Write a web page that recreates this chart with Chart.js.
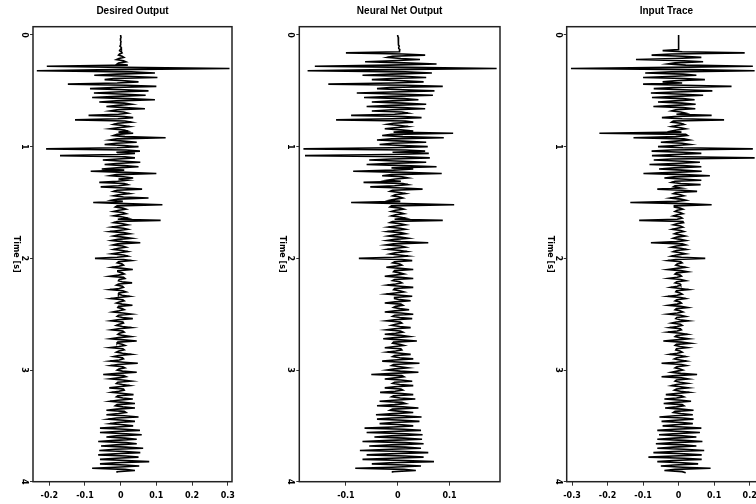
<!DOCTYPE html>
<html>
<head>
<meta charset="utf-8">
<script src="https://cdn.jsdelivr.net/npm/chart.js@4.4.1/dist/chart.umd.min.js"></script>
<style>
    html, body { margin: 0; padding: 0; background: #fff; overflow: hidden; }
    #wrap { position: relative; width: 756px; height: 504px; overflow: hidden; }
    #wrap canvas { position: absolute; top: 0; }
</style>
</head>
<body>
<div id="wrap">
    <canvas id="desiredChart" width="250" height="504" style="left:0px"></canvas>
    <canvas id="netChart" width="262" height="504" style="left:250px"></canvas>
    <canvas id="inputChart" width="272" height="504" style="left:512px"></canvas>
</div>
<script>
// sample interval of the traces (s)
const sampleInterval = 0.01;

const timeTicks = [0, 1, 2, 3, 4];
const desiredTicks = [-0.2, -0.1, 0, 0.1, 0.2, 0.3];
const netTicks = [-0.1, 0, 0.1];
const inputTicks = [-0.3, -0.2, -0.1, 0, 0.1, 0.2];

const desiredAmp = [
    0, 0, 0.001, 0, -0.001, 0, 0.001, 0, 0, 0, -0.002, 0.001, 0.002, -0.001, -0.003, 0.002, 0.004, -0.003, -0.006, 0.004,
    0.009, -0.005, -0.012, 0.008, 0.015, -0.006, -0.01, 0.02, -0.207, 0.01, 0.305, -0.02, -0.235, 0.03, 0.096, -0.01, -0.074, 0.015, 0.103, -0.02,
    -0.045, 0.012, 0.05, -0.01, -0.148, 0.015, 0.1, -0.02, -0.086, 0.01, 0.078, -0.015, -0.075, 0.012, 0.07, -0.01, -0.08, 0.02, 0.096, -0.012,
    -0.06, 0.01, 0.03, -0.008, -0.04, 0.012, 0.068, -0.01, -0.03, 0.008, 0.02, -0.006, -0.09, 0.01, 0.035, -0.008, -0.128, 0.012, 0.03, -0.008,
    -0.02, 0.006, 0.025, -0.008, -0.03, 0.01, 0.02, -0.006, 0.035, -0.01, -0.02, 0.012, 0.126, -0.01, -0.03, 0.008, 0.045, -0.012, -0.045, 0.01,
    0.05, -0.01, -0.209, 0.015, 0.054, -0.012, 0.04, -0.01, -0.17, 0.012, 0.04, -0.008, -0.05, 0.01, 0.055, -0.012, -0.045, 0.01, 0.05, -0.01,
    -0.053, 0.01, -0.084, 0.015, 0.1, -0.012, -0.03, 0.008, 0.035, -0.006, 0.02, -0.008, -0.06, 0.01, 0.02, -0.006, -0.056, 0.01, 0.06, -0.01,
    -0.02, 0.005, 0.025, -0.006, -0.02, 0.008, 0.078, -0.008, -0.025, 0.006, -0.077, 0.012, 0.117, -0.01, -0.015, 0.006, 0.015, -0.005, -0.02, 0.006,
    0.015, -0.005, -0.02, 0.006, 0.02, -0.008, 0.112, -0.01, -0.02, 0.006, 0.02, -0.005, -0.025, 0.008, 0.02, -0.006, -0.03, 0.008, 0.025, -0.006,
    -0.02, 0.006, 0.03, -0.008, -0.025, 0.006, 0.055, -0.008, -0.022, 0.005, 0.015, -0.006, -0.02, 0.005, 0.02, -0.006, -0.025, 0.008, 0.02, -0.01,
    -0.072, 0.008, 0.03, -0.006, -0.01, 0.004, 0.008, -0.005, -0.025, 0.006, 0.034, -0.008, -0.008, 0.004, 0.01, -0.006, -0.03, 0.008, 0.012, -0.004,
    -0.006, 0.004, 0.032, -0.006, -0.012, 0.005, 0.008, -0.004, -0.03, 0.006, 0.015, -0.005, -0.006, 0.004, 0.025, -0.006, -0.028, 0.006, 0.01, -0.004,
    -0.012, 0.004, 0.033, -0.006, -0.008, 0.004, 0.01, -0.005, -0.022, 0.006, 0.03, -0.006, -0.01, 0.005, 0.034, -0.008, -0.028, 0.006, 0.008, -0.004,
    -0.012, 0.005, 0.03, -0.006, -0.026, 0.006, 0.01, -0.004, -0.008, 0.005, 0.028, -0.006, -0.028, 0.008, 0.045, -0.008, -0.01, 0.004, 0.012, -0.005,
    -0.03, 0.006, 0.01, -0.005, -0.012, 0.005, 0.03, -0.006, -0.02, 0.005, 0.008, -0.004, -0.03, 0.008, 0.048, -0.008, -0.028, 0.006, 0.012, -0.005,
    -0.01, 0.005, 0.045, -0.008, -0.049, 0.008, 0.015, -0.006, -0.03, 0.006, 0.03, -0.008, -0.012, 0.005, 0.025, -0.006, -0.032, 0.008, 0.01, -0.005,
    -0.025, 0.008, 0.036, -0.008, -0.012, 0.006, 0.034, -0.008, -0.03, 0.008, 0.04, -0.01, -0.015, 0.006, 0.04, -0.01, -0.04, 0.01, 0.015, -0.006,
    -0.04, 0.01, 0.05, -0.012, -0.035, 0.008, 0.04, -0.01, -0.03, 0.008, 0.035, -0.01, -0.058, 0.012, 0.054, -0.012, -0.058, 0.015, 0.059, -0.012,
    -0.04, 0.012, 0.045, -0.015, -0.063, 0.015, 0.045, -0.012, -0.055, 0.015, 0.063, -0.015, -0.06, 0.012, 0.055, -0.015, -0.063, 0.015, 0.05, -0.012,
    -0.058, 0.015, 0.08, -0.015, -0.058, 0.012, 0.052, -0.015, -0.08, 0.012, 0.04, -0.01, -0.01
];

const netAmp = [
    0, 0, 0.001, 0.001, 0.001, 0.002, 0.002, 0.001, 0.001, 0.002, 0.003, 0.002, 0.002, 0.004, 0.004, 0.003, -0.1, 0.01, 0.053, -0.01,
    -0.02, 0.006, 0.043, -0.01, -0.063, 0.012, 0.075, -0.015, -0.16, 0.02, 0.191, -0.02, -0.174, 0.015, 0.066, -0.012, -0.068, 0.01, 0.055, -0.012,
    -0.05, 0.012, 0.05, -0.01, -0.134, 0.015, 0.087, -0.015, -0.04, 0.01, 0.071, -0.012, -0.079, 0.012, 0.068, -0.01, -0.065, 0.012, 0.04, -0.01,
    -0.05, 0.01, 0.055, -0.012, -0.06, 0.01, 0.053, -0.01, -0.05, 0.008, 0.02, -0.006, -0.09, 0.012, 0.046, -0.01, -0.119, 0.015, 0.03, -0.008,
    -0.02, 0.005, 0.02, -0.006, -0.025, 0.006, 0.03, -0.008, 0.107, -0.012, -0.03, 0.01, 0.089, -0.012, -0.04, 0.01, 0.055, -0.01, -0.035, 0.01,
    0.058, -0.012, -0.182, 0.015, 0.053, -0.01, 0.06, -0.012, -0.179, 0.015, 0.062, -0.012, -0.055, 0.01, 0.055, -0.012, -0.06, 0.012, 0.075, -0.012,
    0.03, -0.008, -0.086, 0.012, 0.085, -0.012, -0.03, 0.008, 0.02, -0.005, -0.02, 0.006, -0.066, 0.01, 0.02, -0.006, -0.053, 0.01, 0.048, -0.01,
    -0.015, 0.004, 0.015, -0.005, -0.01, 0.004, 0.01, -0.004, -0.015, 0.005, -0.09, 0.012, 0.109, -0.012, -0.015, 0.005, 0.012, -0.004, -0.012, 0.004,
    0.012, -0.004, -0.012, 0.004, 0.015, -0.006, 0.087, -0.01, -0.015, 0.005, 0.015, -0.004, -0.018, 0.005, 0.015, -0.005, -0.02, 0.006, 0.015, -0.005,
    -0.018, 0.005, 0.02, -0.006, -0.02, 0.006, 0.059, -0.008, -0.023, 0.006, 0.015, -0.005, -0.02, 0.005, 0.018, -0.005, -0.015, 0.004, 0.02, -0.008,
    -0.075, 0.008, 0.028, -0.006, -0.01, 0.004, 0.008, -0.004, -0.022, 0.005, 0.03, -0.006, -0.008, 0.004, 0.012, -0.005, -0.025, 0.006, 0.03, -0.006,
    -0.01, 0.004, 0.008, -0.004, -0.02, 0.005, 0.03, -0.006, -0.008, 0.004, 0.012, -0.005, -0.022, 0.006, 0.028, -0.006, -0.006, 0.004, 0.025, -0.005,
    -0.025, 0.006, 0.01, -0.004, -0.008, 0.004, 0.022, -0.005, -0.025, 0.006, 0.03, -0.006, -0.01, 0.004, 0.028, -0.006, -0.022, 0.005, 0.008, -0.004,
    -0.012, 0.004, 0.025, -0.006, -0.022, 0.005, 0.01, -0.004, -0.025, 0.006, 0.022, -0.005, -0.028, 0.006, 0.037, -0.008, -0.01, 0.004, 0.012, -0.005,
    -0.025, 0.006, 0.008, -0.004, -0.02, 0.005, 0.025, -0.006, -0.01, 0.004, 0.03, -0.006, -0.03, 0.008, 0.042, -0.008, -0.012, 0.005, 0.02, -0.005,
    -0.02, 0.005, 0.04, -0.008, -0.051, 0.008, 0.012, -0.005, -0.025, 0.006, 0.028, -0.006, -0.01, 0.004, 0.03, -0.006, -0.025, 0.006, 0.01, -0.005,
    -0.034, 0.008, 0.03, -0.008, -0.012, 0.005, 0.034, -0.008, -0.035, 0.008, 0.015, -0.006, -0.04, 0.01, 0.04, -0.01, -0.015, 0.006, 0.03, -0.008,
    -0.042, 0.01, 0.046, -0.012, -0.04, 0.01, 0.042, -0.01, -0.035, 0.008, 0.03, -0.008, -0.064, 0.012, 0.045, -0.012, -0.06, 0.015, 0.048, -0.012,
    -0.045, 0.012, 0.047, -0.015, -0.068, 0.015, 0.05, -0.012, -0.055, 0.015, 0.045, -0.012, -0.073, 0.015, 0.059, -0.015, -0.06, 0.015, 0.05, -0.012,
    -0.068, 0.015, 0.07, -0.015, -0.05, 0.012, 0.045, -0.012, -0.082, 0.012, 0.035, -0.01, -0.01
];

const inputAmp = [
    0, 0, 0, 0, 0, 0, 0, 0, 0, 0, 0, 0, 0, 0, -0.045, 0.01, 0.186, -0.02, -0.076, 0.012,
    0.064, -0.01, -0.12, 0.015, 0.069, -0.01, -0.03, 0.02, 0.209, -0.02, -0.303, 0.03, 0.214, -0.02, -0.094, 0.012, 0.05, -0.01, -0.1, 0.015,
    0.074, -0.012, -0.045, 0.01, -0.1, 0.015, 0.149, -0.015, -0.07, 0.012, 0.095, -0.012, -0.078, 0.012, 0.069, -0.01, -0.075, 0.012, 0.045, -0.01,
    -0.058, 0.01, 0.048, -0.01, -0.071, 0.012, 0.047, -0.008, -0.02, 0.006, 0.02, -0.006, 0.093, -0.012, -0.047, 0.01, 0.128, -0.015, -0.02, 0.006,
    0.015, -0.005, -0.02, 0.006, 0.02, -0.006, -0.02, 0.008, -0.223, 0.02, 0.025, -0.008, -0.127, 0.015, 0.03, -0.008, -0.05, 0.01, 0.032, -0.008,
    -0.058, 0.012, 0.209, -0.02, -0.076, 0.012, 0.064, -0.012, -0.075, 0.015, 0.214, -0.02, -0.07, 0.012, 0.06, -0.012, -0.082, 0.012, 0.064, -0.012,
    -0.055, 0.01, 0.065, -0.012, -0.099, 0.015, 0.088, -0.012, -0.04, 0.008, 0.064, -0.01, -0.02, 0.006, 0.062, -0.01, -0.015, 0.005, -0.06, 0.01,
    0.052, -0.008, -0.015, 0.005, 0.015, -0.005, -0.024, 0.006, 0.02, -0.006, -0.136, 0.015, 0.093, -0.012, -0.012, 0.004, 0.012, -0.004, -0.01, 0.004,
    0.012, -0.004, -0.015, 0.005, 0.01, -0.004, -0.111, 0.012, 0.014, -0.005, -0.015, 0.005, 0.012, -0.004, -0.018, 0.006, 0.015, -0.005, -0.012, 0.004,
    0.018, -0.005, -0.015, 0.005, 0.02, -0.006, -0.078, 0.01, 0.02, -0.006, -0.02, 0.006, 0.022, -0.006, -0.015, 0.005, 0.02, -0.006, -0.02, 0.008,
    0.075, -0.008, -0.03, 0.006, 0.01, -0.004, -0.008, 0.004, 0.02, -0.005, -0.03, 0.006, 0.025, -0.006, -0.01, 0.004, 0.008, -0.004, -0.028, 0.006,
    0.02, -0.005, -0.01, 0.004, 0.006, -0.004, -0.022, 0.005, 0.028, -0.006, -0.008, 0.004, 0.01, -0.004, -0.03, 0.006, 0.02, -0.005, -0.01, 0.004,
    0.008, -0.004, -0.028, 0.006, 0.025, -0.006, -0.01, 0.004, 0.012, -0.004, -0.03, 0.006, 0.02, -0.005, -0.008, 0.004, 0.028, -0.006, -0.02, 0.005,
    0.01, -0.004, -0.025, 0.005, 0.008, -0.004, -0.03, 0.006, 0.025, -0.006, -0.01, 0.004, 0.028, -0.006, -0.043, 0.008, 0.033, -0.006, -0.01, 0.004,
    0.025, -0.006, -0.008, 0.004, 0.01, -0.004, -0.025, 0.005, 0.02, -0.005, -0.012, 0.004, 0.022, -0.006, -0.048, 0.008, 0.022, -0.005, -0.01, 0.004,
    0.012, -0.004, -0.02, 0.006, 0.052, -0.008, -0.048, 0.008, 0.028, -0.006, -0.01, 0.004, 0.025, -0.006, -0.02, 0.005, 0.028, -0.006, -0.012, 0.005,
    0.03, -0.008, -0.036, 0.008, 0.015, -0.006, -0.04, 0.008, 0.035, -0.008, -0.042, 0.01, 0.015, -0.006, -0.038, 0.008, 0.042, -0.01, -0.015, 0.006,
    0.04, -0.01, -0.054, 0.012, 0.042, -0.01, -0.048, 0.01, 0.04, -0.01, -0.045, 0.012, 0.064, -0.012, -0.06, 0.012, 0.06, -0.015, -0.055, 0.012,
    0.05, -0.012, -0.06, 0.015, 0.067, -0.015, -0.064, 0.012, 0.05, -0.015, -0.06, 0.015, 0.072, -0.015, -0.071, 0.015, 0.065, -0.015, -0.085, 0.015,
    0.065, -0.015, -0.06, 0.012, 0.055, -0.012, -0.05, 0.012, 0.09, -0.01, -0.04, 0.01, 0.02
];

// frame, title and the rotated time labels
const panelDecor = {
    id: 'panelDecor',
    afterDraw(chart, args, opts) {
        const ctx = chart.ctx;
        const a = chart.chartArea;
        const yScale = chart.scales.y;

        ctx.save();
        ctx.strokeStyle = '#222';
        ctx.lineWidth = 1.5;
        ctx.strokeRect(a.left, a.top, a.right - a.left, a.bottom - a.top);

        ctx.fillStyle = '#000';
        ctx.textAlign = 'center';
        ctx.textBaseline = 'middle';
        ctx.font = 'bold 10px "Liberation Sans"';
        ctx.fillText(opts.title, (a.left + a.right) / 2, 11);

        ctx.font = 'bold 8px "DejaVu Sans"';
        timeTicks.forEach(t => {
            ctx.save();
            ctx.translate(a.left - 9, yScale.getPixelForValue(t));
            ctx.rotate(Math.PI / 2);
            ctx.fillText(String(t), 0, 0);
            ctx.restore();
        });

        ctx.translate(a.left - 17, (a.top + a.bottom) / 2);
        ctx.rotate(Math.PI / 2);
        ctx.fillText('Time [s]', 0, 0);
        ctx.restore();
    }
};

function drawTrace(canvasId, title, amps, xMin, xMax, xTicks, padLeft, padRight) {
    const points = amps.map((a, i) => ({ x: a, y: i * sampleInterval }));
    const ctx = document.getElementById(canvasId).getContext('2d');
    return new Chart(ctx, {
        type: 'scatter',
        data: {
            datasets: [{
                data: points,
                showLine: true,
                borderColor: '#000',
                borderWidth: 1.6,
                pointRadius: 0,
                tension: 0
            }]
        },
        options: {
            responsive: false,
            animation: false,
            devicePixelRatio: 1,
            layout: {
                padding: { left: padLeft, right: padRight, top: 26.7, bottom: 0 }
            },
            plugins: {
                legend: { display: false },
                tooltip: { enabled: false },
                panelDecor: { title: title }
            },
            scales: {
                x: {
                    type: 'linear',
                    min: xMin,
                    max: xMax,
                    afterBuildTicks: scale => {
                        scale.ticks = xTicks.map(v => ({ value: v }));
                    },
                    afterFit: scale => { scale.height = 22.3; },
                    border: { display: false },
                    grid: { drawOnChartArea: false, tickLength: 4, color: '#333' },
                    ticks: {
                        autoSkip: false,
                        maxRotation: 0,
                        padding: 5,
                        color: '#000',
                        font: { family: 'DejaVu Sans', size: 8, weight: 'bold' },
                        callback: function(value) {
                            return Math.abs(value) < 1e-9 ? '0' : value.toFixed(1);
                        }
                    }
                },
                y: {
                    type: 'linear',
                    reverse: true,
                    min: -0.0743,
                    max: 4,
                    afterBuildTicks: scale => {
                        scale.ticks = timeTicks.map(v => ({ value: v }));
                    },
                    afterFit: scale => { scale.width = 0; },
                    border: { display: false },
                    grid: { drawOnChartArea: false, tickLength: 3, color: '#333' },
                    ticks: { display: false }
                }
            }
        },
        plugins: [panelDecor]
    });
}

drawTrace('desiredChart', 'Desired Output', desiredAmp, -0.2457, 0.312, desiredTicks, 33, 18);
drawTrace('netChart', 'Neural Net Output', netAmp, -0.19, 0.1975, netTicks, 49.3, 12);
drawTrace('inputChart', 'Input Trace', inputAmp, -0.315, 0.246, inputTicks, 54.7, 18);
</script>
</body>
</html>
